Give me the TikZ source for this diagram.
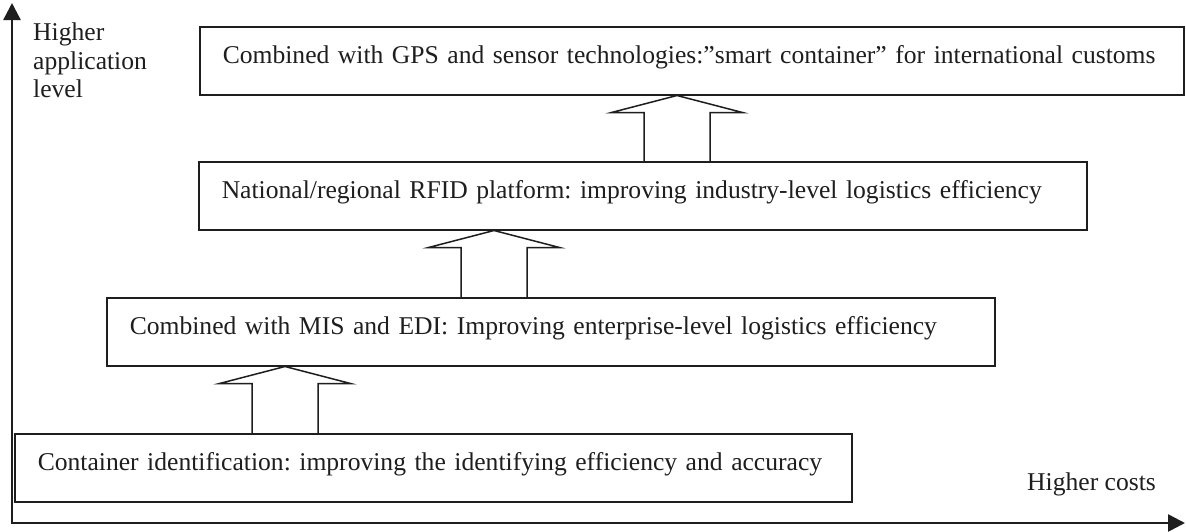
\documentclass[tikz,border=0pt]{standalone}
\usepackage{fontspec}
\setmainfont{Liberation Serif}
\frenchspacing
\usetikzlibrary{arrows.meta,calc}
\definecolor{ink}{HTML}{1E1E1E}
\tikzset{
  levelbox/.style={draw=ink, line width=1.5pt, rectangle, anchor=north west,
    inner xsep=23pt, inner ysep=0pt, minimum height=68pt,
    text height=15pt, text depth=9pt, align=left,
    font=\fontsize{25.6}{30}\selectfont, text=ink},
  blockarrow/.style={draw=ink, line width=1.5pt, line join=miter},
  axisline/.style={draw=ink, line width=2.6pt, line join=miter,
    {Triangle[length=17pt,width=17pt]}-{Triangle[length=17pt,width=17pt]}},
  axislabel/.style={font=\fontsize{25.6}{28.5}\selectfont, text=ink, inner sep=0pt}
}
% hollow upward block arrow from the top of box #1 to the bottom of box #2,
% centred on the x of coordinate #3
\newcommand\stepup[3]{%
  \draw[blockarrow]
    ($(#3 |- #1.north)+(-33,0)$) -- ($(#3 |- #2.south)+(-33,17)$)
    -- ($(#3 |- #2.south)+(-65.5,17)$) -- (#3 |- #2.south)
    -- ($(#3 |- #2.south)+(65.5,17)$) -- ($(#3 |- #2.south)+(33,17)$)
    -- ($(#3 |- #1.north)+(33,0)$);}

\begin{document}
\begin{tikzpicture}[x=1pt,y=-1pt]
\path[use as bounding box, fill=white] (0,0) rectangle (1186,531);

% axes
\coordinate (origin) at (12,523);
\coordinate (ytip) at (12,3);
\coordinate (xtip) at (1185,523);
\draw[axisline] (ytip) -- (origin) -- (xtip);
\node[axislabel, anchor=north west, align=left] (ylab) at (33,23)
  {Higher\\application\\level};
\node[axislabel, anchor=base west] (xlab) at (1027,490) {Higher costs};

% application levels
\node[levelbox, text width=791pt] (b1) at (14,433)
  {\mbox{Container identification: improving the identifying efficiency and accuracy}};
\node[levelbox, text width=842pt] (b2) at (106,297)
  {\mbox{Combined with MIS and EDI: Improving enterprise-level logistics efficiency}};
\node[levelbox, text width=842pt] (b3) at (198,161)
  {\mbox{National/regional RFID platform: improving industry-level logistics efficiency}};
\node[levelbox, text width=938pt] (b4) at (199,26)
  {\mbox{Combined with GPS and sensor technologies:”smart container” for international customs}};

% steps between levels
\coordinate (s1) at (285,0);
\coordinate (s2) at (494,0);
\coordinate (s3) at (677,0);
\stepup{b1}{b2}{s1}
\stepup{b2}{b3}{s2}
\stepup{b3}{b4}{s3}
\end{tikzpicture}
\end{document}
